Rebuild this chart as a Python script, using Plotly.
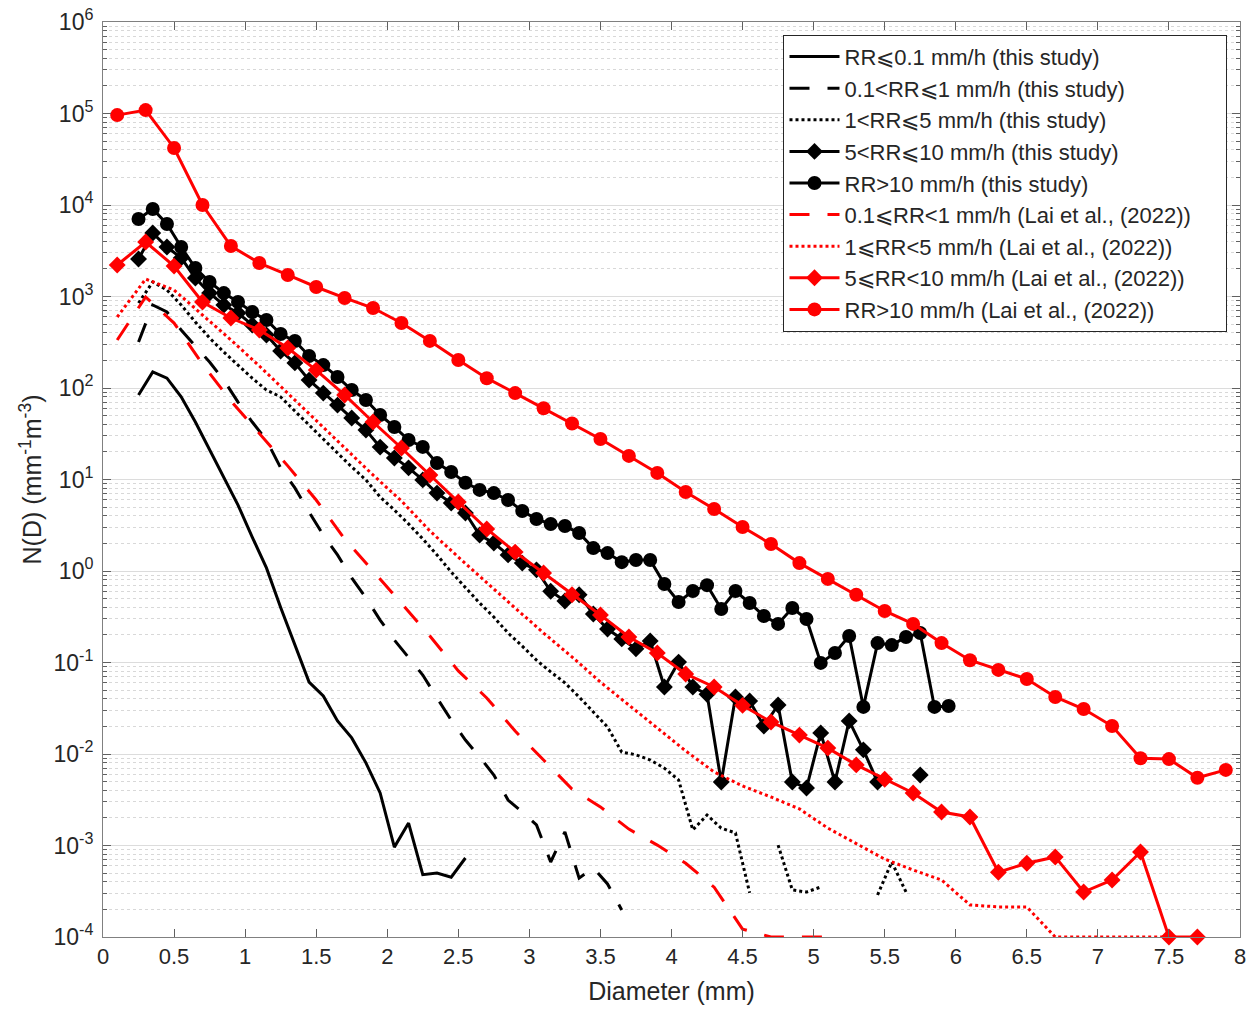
import plotly.graph_objects as go

# Bin centres (mm)
D_study = [0.25, 0.35, 0.45, 0.55, 0.65, 0.75, 0.85, 0.95, 1.05, 1.15,
           1.25, 1.35, 1.45, 1.55, 1.65, 1.75, 1.85, 1.95, 2.05, 2.15,
           2.25, 2.35, 2.45, 2.55, 2.65, 2.75, 2.85, 2.95, 3.05, 3.15,
           3.25, 3.35, 3.45, 3.55, 3.65, 3.75, 3.85, 3.95, 4.05, 4.15,
           4.25, 4.35, 4.45, 4.55, 4.65, 4.75, 4.85, 4.95, 5.05, 5.15,
           5.25, 5.35, 5.45, 5.55, 5.65, 5.75, 5.85, 5.95]
D_lai = [0.1, 0.3, 0.5, 0.7, 0.9, 1.1, 1.3, 1.5, 1.7, 1.9,
         2.1, 2.3, 2.5, 2.7, 2.9, 3.1, 3.3, 3.5, 3.7, 3.9,
         4.1, 4.3, 4.5, 4.7, 4.9, 5.1, 5.3, 5.5, 5.7, 5.9,
         6.1, 6.3, 6.5, 6.7, 6.9, 7.1, 7.3, 7.5, 7.7, 7.9]

# This study
nd_rr01 = [84, 150, 128, 80, 42.5, 21.0, 10.4, 5.26, 2.35, 1.08,
           0.40, 0.155, 0.061, 0.043, 0.023, 0.015, 0.008, 0.00375, 0.00096, 0.00176,
           0.00048, 0.00050, 0.00045, 0.00073]
nd_rr1 = [318, 807, 677, 431, 288, 192, 122, 70, 42.5, 27,
          13.4, 8.1, 4.4, 2.47, 1.50, 0.84, 0.51, 0.291, 0.176, 0.112,
          0.073, 0.041, 0.0235, 0.0142, 0.0093, 0.0059, 0.00314, 0.00232, 0.00168, 0.00066,
          0.00141, 0.00044, 0.00057, 0.00038, 0.000197]
nd_rr5 = [849, 1440, 1178, 807, 526, 352, 247, 178, 128, 95,
          80, 56, 39.4, 27, 19, 13.7, 9.9, 6.44, 4.64, 3.27,
          2.24, 1.50, 0.975, 0.652, 0.447, 0.314, 0.210, 0.151, 0.106, 0.079,
          0.060, 0.042, 0.0288, 0.0197, 0.0105, 0.0098, 0.0086, 0.0070, 0.0052, 0.00148,
          0.00215, 0.00155, 0.00137, 0.000303, None, 0.00101, 0.000327, 0.000310, 0.000352, None,
          None, None, 0.000288, 0.00066, 0.000310]
nd_rr10 = [2570, 4940, 3475, 2640, 1590, 1090, 807, 660, 489, 380,
           254, 188, 122, 88, 65, 47, 34.8, 22.6, 17.2, 13.4,
           9.9, 7.1, 5.53, 4.30, 2.47, 2.02, 1.50, 1.22, 1.03, 0.60,
           0.47, 0.55, 0.339, 0.232, 0.181, 0.141, 0.172, 0.054, 0.101, 0.054,
           0.045, 0.00494, 0.042, 0.038, 0.0202, 0.0343, 0.00494, 0.00425, 0.0170, 0.00494,
           0.0230, 0.0111, 0.00494, None, None, 0.0059]
nd_rrgt10 = [7030, 9040, 6200, 3475, 2050, 1440, 1090, 871, 677, 553,
             389, 326, 224, 178, 132, 95, 74, 50.7, 37.5, 27,
             22.7, 15.1, 12.1, 9.2, 7.7, 7.1, 5.97, 4.53, 3.70, 3.26,
             3.10, 2.60, 1.78, 1.57, 1.25, 1.32, 1.32, 0.72, 0.458, 0.604,
             0.70, 0.385, 0.604, 0.447, 0.322, 0.264, 0.394, 0.299, 0.099, 0.127,
             0.195, 0.0327, 0.163, 0.155, 0.190, 0.210, 0.0327, 0.0335]

# Lai et al. (2022)
lai_rr1 = [335, 988, 513, 183, 72, 32.2, 14.1, 5.97, 2.24, 1.0,
           0.447, 0.195, 0.081, 0.041, 0.0178, 0.0086, 0.00414, 0.00264, 0.00151, 0.00101,
           0.00064, 0.00035, 0.000122, 0.0001, 0.0001, 0.0001]
lai_rr5 = [597, 1552, 1178, 628, 335, 174, 88, 43.6, 22.6, 11.2,
           5.82, 2.74, 1.42, 0.74, 0.394, 0.210, 0.115, 0.061, 0.0343, 0.0192,
           0.0108, 0.00636, 0.00447, 0.00339, 0.00251, 0.00155, 0.00106, 0.00071, 0.00054, 0.00042,
           0.000224, 0.000213, 0.000213, 0.0001, 0.0001, 0.0001, 0.0001, 0.0001]
lai_rr10 = [2210, 3940, 2150, 871, 582, 431, 274, 157, 84, 42.5,
            22.1, 11.2, 5.68, 2.88, 1.61, 0.95, 0.55, 0.33, 0.19, 0.127,
            0.075, 0.054, 0.034, 0.0224, 0.0161, 0.0116, 0.0076, 0.0053, 0.00375, 0.00232,
            0.00205, 0.00051, 0.00064, 0.00075, 0.00031, 0.00042, 0.00085, 0.0001, 0.0001]
lai_rrgt10 = [96000, 109000, 42000, 10000, 3560, 2320, 1720, 1270, 964, 748,
              513, 327, 202, 128, 88, 60, 41, 27.7, 18.1, 11.8,
              7.3, 4.76, 3.03, 1.97, 1.22, 0.82, 0.55, 0.366, 0.264, 0.163,
              0.106, 0.083, 0.066, 0.042, 0.031, 0.0202, 0.0090, 0.0088, 0.0055, 0.0067]

PAD = "\u00a0" * 5  # widens the legend box to the reference width
names = ["RR⩽0.1 mm/h (this study)",
         "0.1&lt;RR⩽1 mm/h (this study)",
         "1&lt;RR⩽5 mm/h (this study)",
         "5&lt;RR⩽10 mm/h (this study)",
         "RR&gt;10 mm/h (this study)",
         "0.1⩽RR&lt;1 mm/h (Lai et al., (2022))" + PAD,
         "1⩽RR&lt;5 mm/h (Lai et al., (2022))",
         "5⩽RR&lt;10 mm/h (Lai et al., (2022))",
         "RR&gt;10 mm/h (Lai et al., (2022))"]

DASH = "20px,18px"
DOT = "3px,3px"
series = [
    (D_study, nd_rr01, "black", "solid", None),
    (D_study, nd_rr1, "black", DASH, None),
    (D_study, nd_rr5, "black", DOT, None),
    (D_study, nd_rr10, "black", "solid", "diamond"),
    (D_study, nd_rrgt10, "black", "solid", "circle"),
    (D_lai, lai_rr1, "red", DASH, None),
    (D_lai, lai_rr5, "red", DOT, None),
    (D_lai, lai_rr10, "red", "solid", "diamond"),
    (D_lai, lai_rrgt10, "red", "solid", "circle"),
]

fig = go.Figure()
for i, (xs, ys, col, dash, sym) in enumerate(series):
    n = len(ys)
    mode = "lines+markers" if sym else "lines"
    tr = dict(x=xs[:n], y=ys, mode=mode, name=names[i], legendgroup=f"g{i}",
              line=dict(color=col, width=3, dash=dash), connectgaps=False,
              cliponaxis=False)
    if sym:
        tr["marker"] = dict(symbol=sym, size=14 if sym == "circle" else 13,
                            color=col, line=dict(width=0))
    fig.add_trace(go.Scatter(**tr))

font_col = "#262626"
ytickvals = [10.0 ** k for k in range(-4, 7)]
yticktext = [f"10<sup>{k}</sup>" for k in range(-4, 7)]

fig.update_layout(
    width=1257, height=1010,
    margin=dict(l=103, r=17, t=22, b=73),
    paper_bgcolor="white", plot_bgcolor="white",
    font=dict(family="Liberation Sans, Arial, sans-serif", size=22, color=font_col),
    legend=dict(x=0.5985, y=0.986, xanchor="left", yanchor="top",
                bgcolor="white", bordercolor=font_col, borderwidth=1,
                font=dict(size=22, color=font_col), itemwidth=50,
                tracegroupgap=0, traceorder="grouped"),
    showlegend=True,
)
fig.update_xaxes(range=[0, 8], dtick=0.5, tick0=0, ticks="inside", ticklen=8,
                 showline=True, linecolor="#808080", linewidth=1, mirror="ticks",
                 tickcolor="#606060", showgrid=False, zeroline=False, automargin=False,
                 tickfont=dict(size=22), ticklabeloverflow="allow",
                 title=dict(text="Diameter (mm)", font=dict(size=25), standoff=14))
fig.update_yaxes(type="log", range=[-4, 6], tickmode="array", tickvals=ytickvals,
                 ticktext=yticktext, ticks="inside", ticklen=8,
                 showline=True, linecolor="#808080", linewidth=1, mirror="ticks",
                 tickcolor="#606060", showgrid=True, gridcolor="#dcdcdc", gridwidth=1,
                 zeroline=False, automargin=False, tickfont=dict(size=23),
                 ticklabelstandoff=4, ticklabeloverflow="allow",
                 minor=dict(dtick="D1", ticks="inside", ticklen=4, tickcolor="#606060",
                            showgrid=True, gridcolor="#d8d8d8", griddash="dot", gridwidth=1),
                 title=dict(text="N(D) (mm<sup>-1</sup>m<sup>-3</sup>)", font=dict(size=25),
                            standoff=4))

# remove the browser's default 8 px page margin so the figure fills the window exactly
fig.write_html("out.html", config={"displayModeBar": False},
               post_script="document.body.style.margin='0';")
